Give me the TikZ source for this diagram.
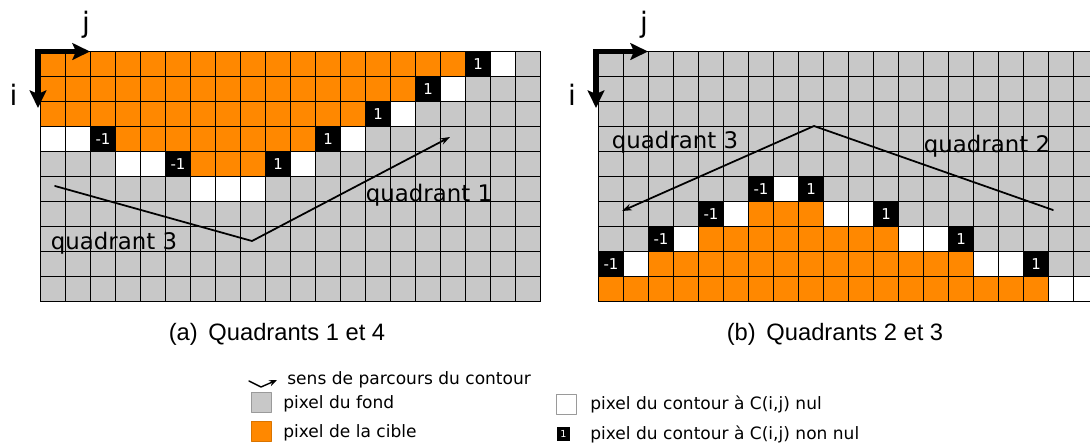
\documentclass[tikz,border=0pt]{standalone}
\usepackage{fontspec}
\setmainfont{DejaVu Sans}
\newfontfamily\capfont{Liberation Sans}
\usetikzlibrary{arrows.meta,calc}
\definecolor{cible}{HTML}{FF8800}
\definecolor{fond}{HTML}{C8C8C8}
\definecolor{boxline}{HTML}{9A9A9A}
\tikzset{
    every picture/.style={line cap=round,line join=round},
    pixcell/.style={minimum size=0.5cm,inner sep=0pt,outer sep=0pt},
    pixo/.style={fill=cible},
    pixg/.style={fill=fond},
    pixw/.style={fill=white},
    pixp/.style={fill=black,label={[cellval]center:1}},
    pixm/.style={fill=black,label={[cellval]center:-1}},
    cellval/.style={text=white,font=\fontsize{8.5}{9}\selectfont,inner sep=0pt},
    gridline/.style={draw=black,line width=0.6pt,line cap=rect},
    axisarrow/.style={line width=3.4pt,line join=miter,line cap=butt,
      {Stealth[length=10pt,width=9.5pt,inset=2pt]}-{Stealth[length=10pt,width=9.5pt,inset=2pt]}},
    axislabel/.style={anchor=base,inner sep=0pt,font=\fontsize{16}{18}\selectfont},
    contourarrow/.style={-{Stealth[length=5.5pt,width=3.8pt]},line width=1pt},
    quadlabel/.style={anchor=base,inner sep=0pt,font=\fontsize{13}{15}\selectfont},
    captext/.style={anchor=base,inner sep=0pt,font=\capfont\fontsize{13.5}{16}\selectfont},
    legtext/.style={anchor=base west,inner sep=0pt,font=\fontsize{9.7}{11}\selectfont},
    legbox/.style={minimum size=0.4cm,inner sep=0pt,line width=0.5pt}
}
% one row of pixels: grid name, left edge, row index, list of pixel kinds
\newcommand\pixrow[4]{%
  \foreach \pv [count=\k from 0] in {#4}
    \node[pixcell,pix\pv] (#1-#3-\k) at ({#2+25*\k+12.5},{51.5+25*#3+12.5}) {};
}
% grid lines over a 20x10 block of pixels, left edge given
\newcommand\pixgrid[1]{%
  \foreach \k in {0,...,20}
    \draw[gridline] ({#1+25*\k},51.5) -- ({#1+25*\k},301.5);
  \foreach \r in {0,...,10}
    \draw[gridline] (#1,{51.5+25*\r}) -- ({#1+500},{51.5+25*\r});
}

\begin{document}
\begin{tikzpicture}[x=0.02cm,y=-0.02cm]
  \clip (0,0) rectangle (1090,444);
  % (a) quadrants 1 et 4
  \pixrow{a}{40.5}{0}{o,o,o,o,o,o,o,o,o,o,o,o,o,o,o,o,o,p,w,g}
  \pixrow{a}{40.5}{1}{o,o,o,o,o,o,o,o,o,o,o,o,o,o,o,p,w,g,g,g}
  \pixrow{a}{40.5}{2}{o,o,o,o,o,o,o,o,o,o,o,o,o,p,w,g,g,g,g,g}
  \pixrow{a}{40.5}{3}{w,w,m,o,o,o,o,o,o,o,o,p,w,g,g,g,g,g,g,g}
  \pixrow{a}{40.5}{4}{g,g,g,w,w,m,o,o,o,p,w,g,g,g,g,g,g,g,g,g}
  \pixrow{a}{40.5}{5}{g,g,g,g,g,g,w,w,w,g,g,g,g,g,g,g,g,g,g,g}
  \foreach \r in {6,...,9}{
    \pixrow{a}{40.5}{\r}{g,g,g,g,g,g,g,g,g,g,g,g,g,g,g,g,g,g,g,g}
  }
  \pixgrid{40.5}
  % (b) quadrants 2 et 3
  \foreach \r in {0,...,4}{
    \pixrow{b}{598.5}{\r}{g,g,g,g,g,g,g,g,g,g,g,g,g,g,g,g,g,g,g,g}
  }
  \pixrow{b}{598.5}{5}{g,g,g,g,g,g,m,w,p,g,g,g,g,g,g,g,g,g,g,g}
  \pixrow{b}{598.5}{6}{g,g,g,g,m,w,o,o,o,w,w,p,g,g,g,g,g,g,g,g}
  \pixrow{b}{598.5}{7}{g,g,m,w,o,o,o,o,o,o,o,o,w,w,p,g,g,g,g,g}
  \pixrow{b}{598.5}{8}{m,w,o,o,o,o,o,o,o,o,o,o,o,o,o,w,w,p,g,g}
  \pixrow{b}{598.5}{9}{o,o,o,o,o,o,o,o,o,o,o,o,o,o,o,o,o,o,w,w}
  \pixgrid{598.5}

  % axes
  \coordinate (ja) at (90,51.5);
  \coordinate (ia) at (38,108);
  \draw[axisarrow] (ja) -| (ia);
  \node[axislabel] (jla) at (86,32) {j};
  \node[axislabel] (ila) at (13.5,105) {i};
  \coordinate (jb) at (648,51.5);
  \coordinate (ib) at (596,108);
  \draw[axisarrow] (jb) -| (ib);
  \node[axislabel] (jlb) at (644,32) {j};
  \node[axislabel] (ilb) at (572,105) {i};

  % sens de parcours
  \coordinate (a1) at (55,186);
  \coordinate (a2) at (252,241);
  \coordinate (a3) at (450,137);
  \draw[contourarrow] (a1) -- (a2) -- (a3);
  \coordinate (b1) at (1053,210);
  \coordinate (b2) at (814,126);
  \coordinate (b3) at (622,211);
  \draw[contourarrow] (b1) -- (b2) -- (b3);
  \node[quadlabel] (qa3) at (114,249) {quadrant 3};
  \node[quadlabel] (qa1) at (429,201) {quadrant 1};
  \node[quadlabel] (qb3) at (675,148) {quadrant 3};
  \node[quadlabel] (qb2) at (987,152) {quadrant 2};

  % captions
  \node[captext] (capa) at (277,340) {(a)\hspace{0.45em}Quadrants 1 et 4};
  \node[captext] (capb) at (835,340) {(b)\hspace{0.45em}Quadrants 2 et 3};

  % legend
  \coordinate (l1) at (249,381);
  \coordinate (l2) at (261,387);
  \coordinate (l3) at (277,380);
  \draw[-{Stealth[length=4.5pt,width=3.5pt]},line width=0.8pt] (l1) -- (l2) -- (l3);
  \node[legtext] (lsens) at (287,384) {sens de parcours du contour};
  \node[legbox,fill=fond,draw=boxline] (lfond) at (261,402.3) {};
  \node[legtext] (tfond) at (283,408) {pixel du fond};
  \node[legbox,fill=cible,draw=cible!85!black] (lcible) at (261,431.3) {};
  \node[legtext] (tcible) at (283,437) {pixel de la cible};
  \node[legbox,fill=white,draw=boxline] (lnul) at (566.3,404.5) {};
  \node[legtext] (tnul) at (590,409) {pixel du contour à C(i,j) nul};
  \node[fill=black,minimum width=0.25cm,minimum height=0.27cm,inner sep=0pt,
    text=white,font=\fontsize{5.5}{6}\selectfont] (lnonnul) at (563.5,434) {1};
  \node[legtext] (tnonnul) at (590,439) {pixel du contour à C(i,j) non nul};
\end{tikzpicture}
\end{document}
